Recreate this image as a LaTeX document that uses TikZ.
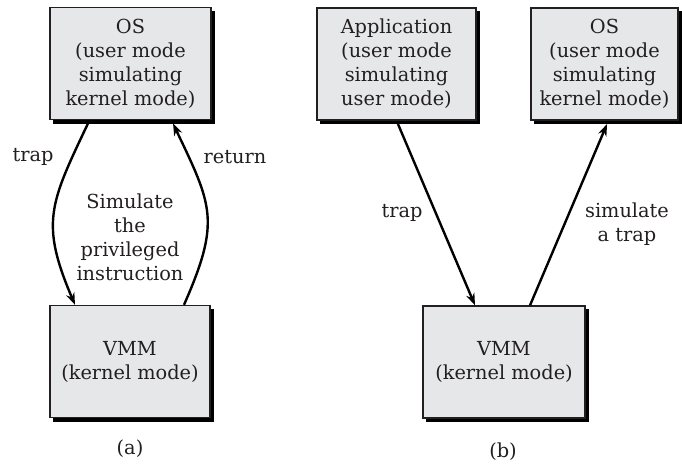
\documentclass[tikz,border=0pt]{standalone}
\usepackage{fontspec}
\setmainfont{DejaVu Serif}
\usetikzlibrary{arrows.meta,backgrounds}
\definecolor{boxfill}{HTML}{E6E7E8}
\definecolor{ink}{HTML}{231F20}
\begin{document}
\begin{tikzpicture}[x=0.75pt,y=-0.75pt,
  font=\fontsize{14.5}{18}\selectfont, text=ink,
  box/.style={draw=ink, line width=1pt, fill=boxfill, align=center,
    minimum height=84pt, inner sep=0pt},
  shade/.style={fill=black},
  arr/.style={line width=1.8pt, draw=black, -{Stealth[length=9pt,width=6.5pt]}},
  lbl/.style={align=center, inner sep=0pt}]
\useasboundingbox (0,0) rectangle (682,468);
% (a)
\node[box, minimum width=120.75pt] (osA) at (130.5,63.5) {OS\\(user mode\\simulating\\kernel mode)};
\node[box, minimum width=120pt] (vmmA) at (130,361.5) {VMM\\(kernel mode)};
% (b)
\node[box, minimum width=119.25pt] (app) at (396.5,64) {Application\\(user mode\\simulating\\user mode)};
\node[box, minimum width=110.25pt] (osB) at (604.5,64) {OS\\(user mode\\simulating\\kernel mode)};
\node[box, minimum width=121.5pt] (vmmB) at (504,362) {VMM\\(kernel mode)};
\begin{scope}[on background layer]
  \foreach \n in {osA,vmmA,app,osB,vmmB}
    \fill[shade] ([shift={(2.8pt,-2.8pt)}]\n.south west) rectangle ([shift={(2.8pt,-2.8pt)}]\n.north east);
\end{scope}
% arrows (a)
\draw[arr] ([xshift=-31.9pt,yshift=-2.5pt]osA.south) .. controls +(-38,80) and +(-35,-82) .. ([xshift=-41.25pt]vmmA.north);
\draw[arr] ([xshift=40.5pt]vmmA.north) .. controls +(37,-84) and +(39,82) .. ([xshift=31.9pt,yshift=-2.5pt]osA.south);
% arrows (b)
\draw[arr] ([xshift=1.1pt,yshift=-2.5pt]app.south) -- ([xshift=-21.75pt]vmmB.north);
\draw[arr] ([xshift=19.5pt]vmmB.north) -- ([xshift=1.9pt,yshift=-2.5pt]osB.south);
% labels
\node[lbl] (ltrapA) at (33,157) {trap};
\node[lbl] (lret) at (235,157) {return};
\node[lbl] (lsim) at (130,237.5) {Simulate\\the\\privileged\\instruction};
\node[lbl] (ltrapB) at (402,213) {trap};
\node[lbl] (lsimB) at (627,224.5) {simulate\\a trap};
\node[lbl] (capA) at (130,449) {(a)};
\node[lbl] (capB) at (503,452) {(b)};
\end{tikzpicture}
\end{document}
